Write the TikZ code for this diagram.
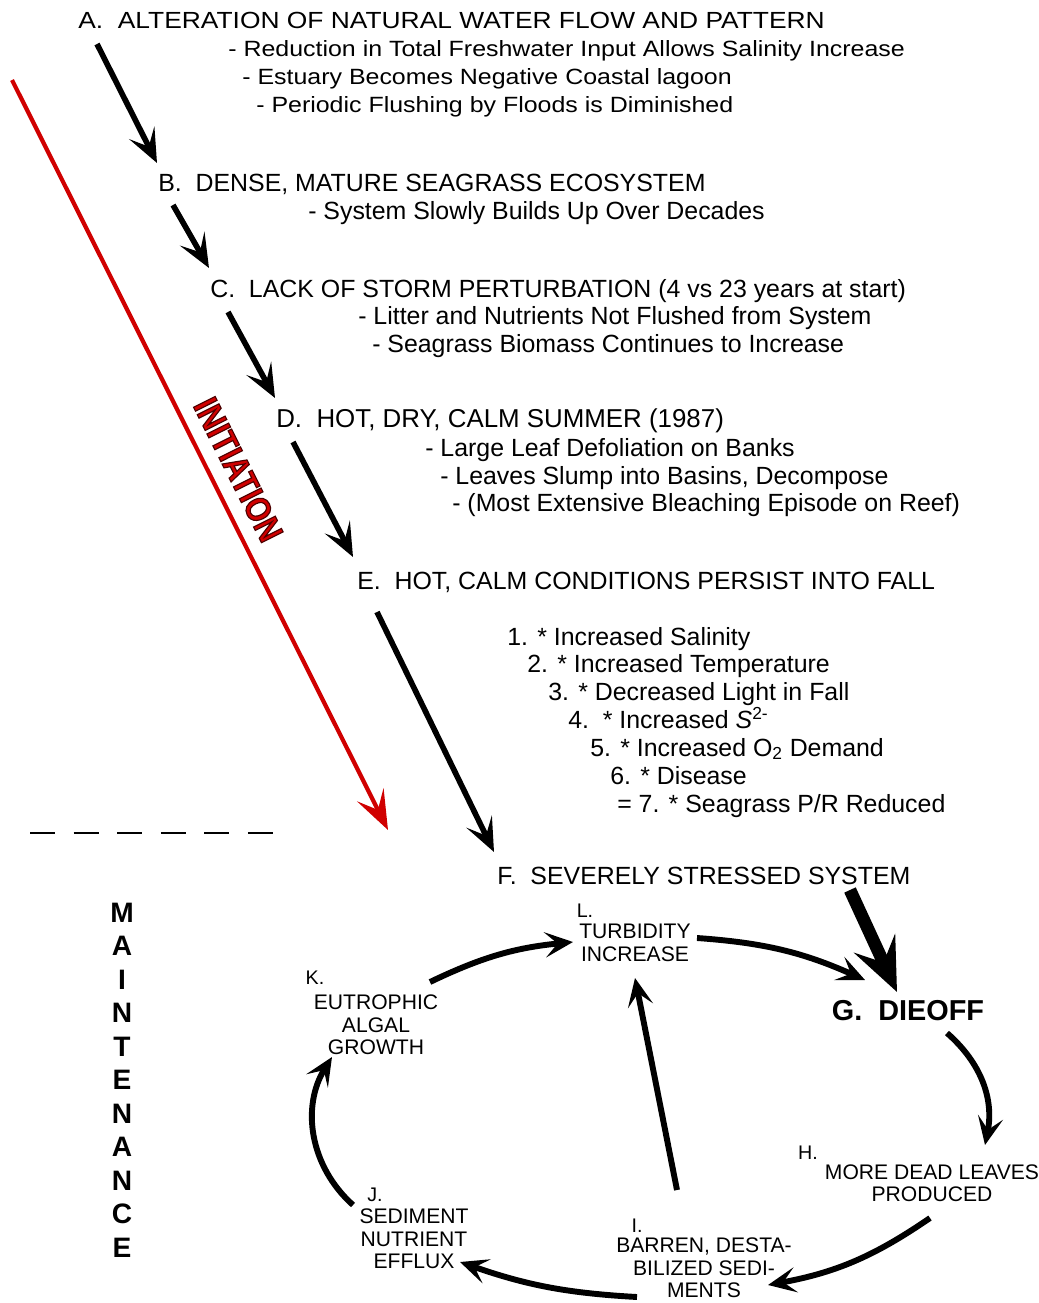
\documentclass[tikz,border=0pt]{standalone}
\usepackage{fontspec}
\setmainfont{Liberation Sans}
\newfontfamily\widefont[FakeStretch=1.13]{Liberation Sans}
\newfontfamily\condfont[FakeStretch=0.85]{Liberation Sans}
\usetikzlibrary{arrows.meta}
\definecolor{initred}{RGB}{208,0,0}

\begin{document}
\begin{tikzpicture}[x=0.025cm, y=0.025cm,
  head/.style={anchor=base west, inner sep=0pt, font=\fontsize{17.7}{20}\selectfont},
  ahead/.style={anchor=base west, inner sep=0pt, font=\widefont\fontsize{15.7}{20}\selectfont},
  cyctext/.style={align=center, inner sep=0pt, font=\fontsize{15}{16}\selectfont},
  steplabel/.style={inner sep=0pt, font=\fontsize{14}{14}\selectfont},
  chain/.style={line width=4pt, -{Stealth[length=24pt,width=20pt,inset=11pt]}},
  cyc/.style={line width=4.2pt, -{Stealth[length=20pt,width=18pt,inset=9pt]}}]

\useasboundingbox (0,0) rectangle (1039,-1303);

% initiation steps
\node[ahead, font=\widefont\fontsize{16.6}{20}\selectfont] (A) at (78,-28) {A.\ \ ALTERATION OF NATURAL WATER FLOW AND PATTERN};
\node[ahead] (A1) at (228,-56) {- Reduction in Total Freshwater Input Allows Salinity Increase};
\node[ahead] (A2) at (242,-84) {- Estuary Becomes Negative Coastal lagoon};
\node[ahead] (A3) at (256,-112) {- Periodic Flushing by Floods is Diminished};

\node[head] (B) at (158,-191) {B.\ \ DENSE, MATURE SEAGRASS ECOSYSTEM};
\node[head] (B1) at (308,-219) {- System Slowly Builds Up Over Decades};

\node[head] (C) at (210,-297) {C.\ \ LACK OF STORM PERTURBATION (4 vs 23 years at start)};
\node[head] (C1) at (358,-324) {- Litter and Nutrients Not Flushed from System};
\node[head] (C2) at (372,-352) {- Seagrass Biomass Continues to Increase};

\node[head, font=\fontsize{18.4}{20}\selectfont] (D) at (276,-427) {D.\ \ HOT, DRY, CALM SUMMER (1987)};
\node[head] (D1) at (425,-456) {- Large Leaf Defoliation on Banks};
\node[head] (D2) at (440,-484) {- Leaves Slump into Basins, Decompose};
\node[head] (D3) at (452,-511) {- (Most Extensive Bleaching Episode on Reef)};

\node[head] (E) at (357,-589) {E.\ \ HOT, CALM CONDITIONS PERSIST INTO FALL};
\node[head] (E1) at (507,-645) {1. * Increased Salinity};
\node[head] (E2) at (527,-672) {2. * Increased Temperature};
\node[head] (E3) at (548,-700) {3. * Decreased Light in Fall};
\node[head] (E4) at (568,-728) {4.\ \ * Increased \textit{S}\textsuperscript{2-}};
\node[head] (E5) at (590,-756) {5. * Increased O\textsubscript{2} Demand};
\node[head] (E6) at (610,-784) {6. * Disease};
\node[head] (E7) at (617,-812) {= 7. * Seagrass P/R Reduced};

\node[head] (F) at (497,-884) {F.\ \ SEVERELY STRESSED SYSTEM};

\draw[chain] ([shift={(19,-16)}]A.base west) -- ([shift={(-1,28)}]B.base west);
\draw[chain] ([shift={(15,-14)}]B.base west) -- ([shift={(-1,29)}]C.base west);
\draw[chain] ([shift={(18,-15)}]C.base west) -- ([shift={(-1,29)}]D.base west);
\draw[chain] ([shift={(17,-15)}]D.base west) -- ([shift={(-4,32)}]E.base west);
\draw[chain] ([shift={(20,-23)}]E.base west) -- ([shift={(-3,32)}]F.base west);

% initiation arrow
\coordinate (init top) at (12,-80);
\coordinate (init end) at (388,-830);
\draw[initred, line width=3pt, -{Stealth[length=28pt,width=21pt,inset=12pt]}] (init top) -- node[pos=0.536, above=0.33cm, sloped, inner sep=0pt, font=\condfont\bfseries\fontsize{25}{25}\selectfont] (initlabel) {\special{pdf:literal direct 2 Tr 0.8 w 0.3 0 0 RG}INITIATION\special{pdf:literal direct 0 Tr}} (init end);

% separator
\coordinate (sep west) at (30,-833);
\coordinate (sep east) at (273,-833);
\draw[line width=1.4pt, dash pattern=on 17.8pt off 13.2pt] (sep west) -- (sep east);

% maintenance cycle
\node[font=\bfseries\fontsize{20}{23.8}\selectfont, align=center, inner sep=0pt] (maint) at (122,-1080) {M\\A\\I\\N\\T\\E\\N\\A\\N\\C\\E};

\node[font=\bfseries\fontsize{20.5}{24}\selectfont, inner sep=0pt] (G) at (908,-1011) {G.\ \ DIEOFF};
\node[cyctext] (H) at (932,-1183) {MORE DEAD LEAVES\\PRODUCED};
\node[cyctext] (I) at (704,-1268) {BARREN, DESTA-\\BILIZED SEDI-\\MENTS};
\node[cyctext] (J) at (414,-1239) {SEDIMENT\\NUTRIENT\\EFFLUX};
\node[cyctext] (K) at (376,-1025) {EUTROPHIC\\ALGAL\\GROWTH};
\node[cyctext] (L) at (635,-943) {TURBIDITY\\INCREASE};

\node[steplabel] (Hlab) at ([shift={(-124,30)}]H.center) {H.};
\node[steplabel] (Ilab) at ([shift={(-67,42)}]I.center) {I.};
\node[steplabel] (Jlab) at ([shift={(-39,44)}]J.center) {J.};
\node[steplabel] (Klab) at ([shift={(-61,47)}]K.center) {K.};
\node[steplabel] (Llab) at ([shift={(-50,32)}]L.center) {L.};

\draw[line width=9pt, -{Stealth[length=38pt,width=32pt,inset=15pt]}] ([shift={(353,-6)}]F.base west) -- ([shift={(-11,19)}]G.center);
\draw[cyc] ([shift={(62,5)}]L.center) to[bend left=10] ([shift={(-43,31)}]G.center);
\draw[cyc] ([shift={(39,-22)}]G.center) to[bend left=30] ([shift={(53,38)}]H.center);
\draw[cyc] ([shift={(-2,-35)}]H.center) to[bend left=12] ([shift={(64,-17)}]I.center);
\draw[cyc] ([shift={(-67,-29)}]I.center) to[bend left=8] ([shift={(46,-23)}]J.center);
\draw[cyc] ([shift={(-61,34)}]J.center) to[bend left=40] ([shift={(-44,-32)}]K.center);
\draw[cyc] ([shift={(54,43)}]K.center) to[bend left=10] ([shift={(-62,1)}]L.center);
\draw[cyc] ([shift={(-27,78)}]I.center) -- ([shift={(0,-35)}]L.center);
\end{tikzpicture}
\end{document}
